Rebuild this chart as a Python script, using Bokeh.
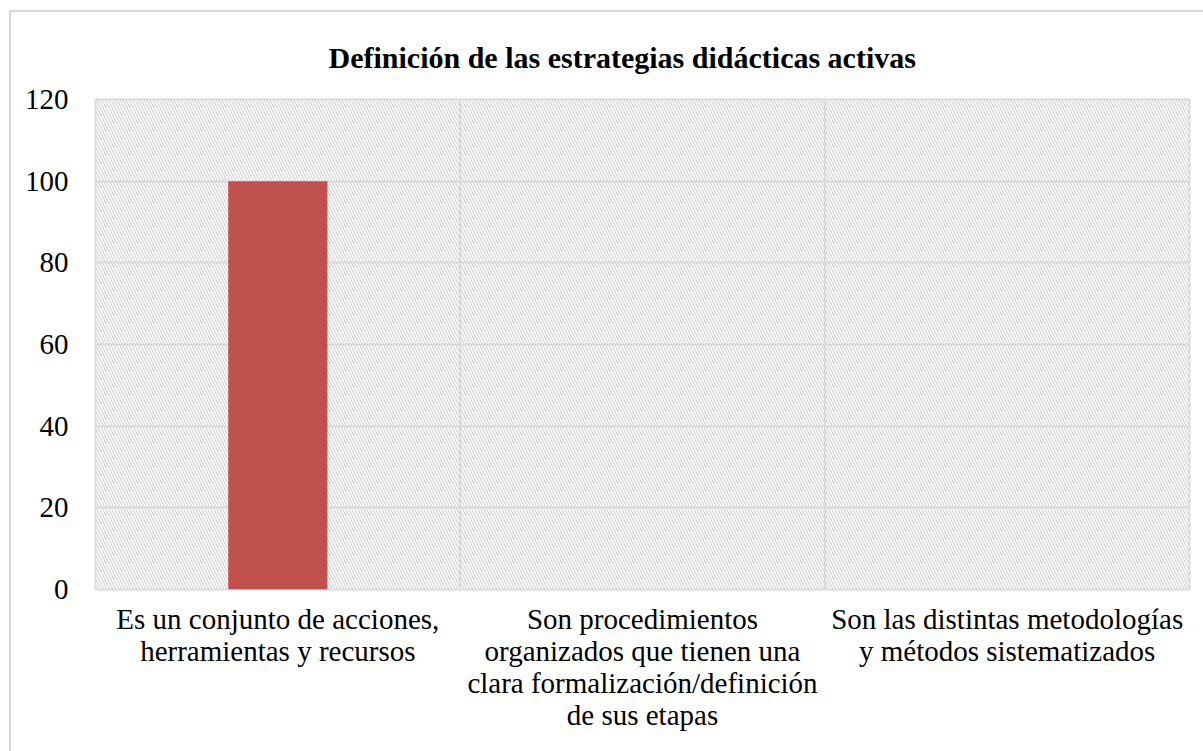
from bokeh.plotting import figure
from bokeh.models import BoxAnnotation, Span, ColumnDataSource, FixedTicker
from bokeh.embed import file_html
from bokeh.resources import INLINE

categories = [
    "Es un conjunto de acciones,\nherramientas y recursos",
    "Son procedimientos\norganizados que tienen una\nclara formalización/definición\nde sus etapas",
    "Son las distintas metodologías\ny métodos sistematizados",
]
values = [100, 0, 0]
y_ticks = [0, 20, 40, 60, 80, 100, 120]
title = "Definición de las estrategias didácticas activas"

FONT = "Liberation Serif"
GRID = "#d9d9d9"

src = ColumnDataSource(dict(cat=categories, val=values))

p = figure(
    width=1192, height=739,
    x_range=categories, y_range=(0, 120),
    output_backend="svg", toolbar_location=None,
    min_border_left=84, min_border_right=16, min_border_top=86, min_border_bottom=164,
)
p.styles = {
    "border-top": "2px solid #d9d9d9",
    "border-left": "2px solid #d9d9d9",
    "margin-left": "9px",
    "margin-top": "10px",
    "box-sizing": "content-box",
}

p.title.text = title
p.title.align = "left"
p.title.offset = 233
p.title.text_font = FONT
p.title.text_font_size = "30px"
p.title.text_font_style = "bold"
p.title.text_color = "black"
p.title.standoff = 52

p.x_range.range_padding = 0

bg = BoxAnnotation(fill_color="white", hatch_pattern="\\", hatch_color="#d3d3d3",
                   hatch_scale=6, hatch_weight=1.2, line_color=None, level="image")
p.add_layout(bg)

p.vbar(x="cat", top="val", width=0.272, source=src, fill_color="#c0504d", line_color=None)

for loc in range(1, len(categories)):
    p.add_layout(Span(location=loc, dimension="height", line_color=GRID, line_width=2, level="underlay"))

p.xgrid.grid_line_color = None
p.ygrid.grid_line_color = GRID
p.ygrid.grid_line_width = 2
p.yaxis.ticker = FixedTicker(ticks=y_ticks)

p.outline_line_color = GRID
p.outline_line_width = 2

for ax in (p.xaxis[0], p.yaxis[0]):
    ax.axis_line_color = None
    ax.major_tick_line_color = None
    ax.minor_tick_line_color = None
    ax.major_label_text_font = FONT
    ax.major_label_text_font_size = "29px"
    ax.major_label_text_color = "black"

p.xaxis.major_label_text_line_height = 1.0
p.yaxis.major_label_standoff = 21
p.xaxis.major_label_standoff = 7
p.xaxis.major_label_orientation = "horizontal"

open("out.html", "w").write(file_html(p, INLINE))
